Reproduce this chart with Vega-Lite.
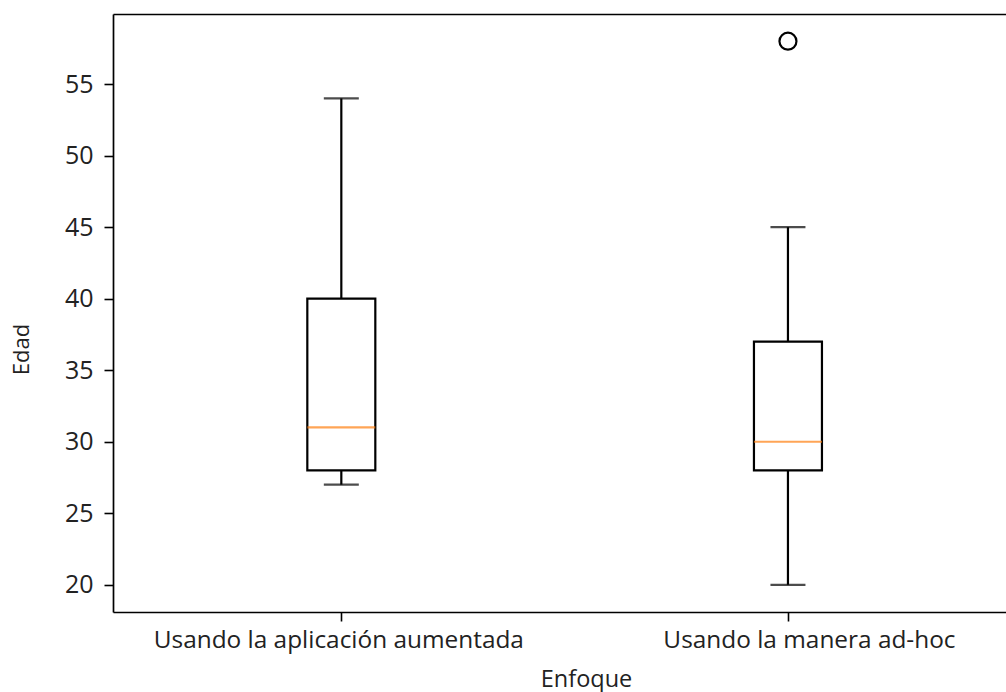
{
  "$schema": "https://vega.github.io/schema/vega-lite/v6.json",
  "width": 893,
  "height": 598,
  "autosize": {"type": "none"},
  "padding": {"left": 113, "top": 14, "right": 0, "bottom": 80},
  "background": "white",
  "config": {"view": {"stroke": null}, "font": "Open Sans"},
  "datasets": {
    "stats": [
      {"enfoque": "Usando la aplicación aumentada", "pos": 1, "lower": 27, "q1": 28, "median": 31, "q3": 40, "upper": 54},
      {"enfoque": "Usando la manera ad-hoc", "pos": 2, "lower": 20, "q1": 28, "median": 30, "q3": 37, "upper": 45}
    ],
    "outliers": [
      {"enfoque": "Usando la manera ad-hoc", "pos": 2, "edad": 58}
    ]
  },
  "resolve": {"axis": {"x": "independent"}},
  "layer": [
    {
      "data": {"name": "stats"},
      "mark": {"type": "rule", "color": "black", "strokeWidth": 2.2},
      "encoding": {
        "x": {"field": "pos", "type": "quantitative", "scale": {"domain": [0.5, 2.477], "nice": false, "zero": false},
          "axis": {"orient": "top", "labels": false, "ticks": false, "domain": true, "domainColor": "black", "domainWidth": 1.7, "grid": false, "title": null}},
        "y": {"field": "q3", "type": "quantitative", "scale": {"domain": [18.1, 59.9], "nice": false, "zero": false},
          "axis": {"values": [20, 25, 30, 35, 40, 45, 50, 55], "grid": false, "domain": true, "domainColor": "black", "domainWidth": 1.7,
            "tickColor": "black", "tickSize": 9, "tickWidth": 1.6, "labelFontSize": 25, "labelColor": "#222", "labelPadding": 11,
            "title": "Edad", "titleFontSize": 22, "titleFontWeight": "normal", "titleColor": "#222",
            "titleX": -85, "titleY": 335, "titleAngle": -90, "titleAlign": "center", "titleBaseline": "alphabetic"}},
        "y2": {"field": "upper"}
      }
    },
    {
      "data": {"name": "stats"},
      "mark": {"type": "rule", "color": "black", "strokeWidth": 2.2},
      "encoding": {
        "x": {"field": "pos", "type": "quantitative", "axis": null},
        "y": {"field": "lower", "type": "quantitative"},
        "y2": {"field": "q1"}
      }
    },
    {
      "data": {"name": "stats"},
      "mark": {"type": "tick", "orient": "horizontal", "color": "black", "size": 35, "thickness": 2.2},
      "encoding": {
        "x": {"field": "pos", "type": "quantitative", "axis": null},
        "y": {"field": "upper", "type": "quantitative"}
      }
    },
    {
      "data": {"name": "stats"},
      "mark": {"type": "tick", "orient": "horizontal", "color": "black", "size": 35, "thickness": 2.2},
      "encoding": {
        "x": {"field": "pos", "type": "quantitative", "axis": null},
        "y": {"field": "lower", "type": "quantitative"}
      }
    },
    {
      "data": {"name": "stats"},
      "mark": {"type": "bar", "width": 68, "fill": "white", "stroke": "black", "strokeWidth": 2.2},
      "encoding": {
        "x": {"field": "pos", "type": "quantitative",
          "axis": {"values": [1, 2], "labelExpr": "datum.value === 1 ? 'Usando la aplicación aumentada' : 'Usando la manera ad-hoc'",
            "grid": false, "domain": true, "domainColor": "black", "domainWidth": 1.7, "tickColor": "black", "tickSize": 9, "tickWidth": 1.6,
            "labelFontSize": 24.4, "labelColor": "#222", "labelPadding": 7, "labelOverlap": false, "labelBound": false, "labelFlush": false, "labelLimit": 0,
            "labelOffset": {"condition": {"test": "datum.value === 2", "value": 21}, "value": -3},
            "title": "Enfoque", "titleFontSize": 23.5, "titleFontWeight": "normal", "titleColor": "#222",
            "titleX": 473, "titleY": 74, "titleAlign": "center", "titleBaseline": "alphabetic"}},
        "y": {"field": "q1", "type": "quantitative"},
        "y2": {"field": "q3"}
      }
    },
    {
      "data": {"name": "stats"},
      "mark": {"type": "tick", "orient": "horizontal", "color": "#ff7f0e", "size": 68, "thickness": 2.2},
      "encoding": {
        "x": {"field": "pos", "type": "quantitative", "axis": null},
        "y": {"field": "median", "type": "quantitative"}
      }
    },
    {
      "data": {"name": "outliers"},
      "mark": {"type": "point", "shape": "circle", "filled": false, "stroke": "black", "strokeWidth": 2.2, "size": 289, "opacity": 1},
      "encoding": {
        "x": {"field": "pos", "type": "quantitative", "axis": null},
        "y": {"field": "edad", "type": "quantitative"}
      }
    }
  ]
}
